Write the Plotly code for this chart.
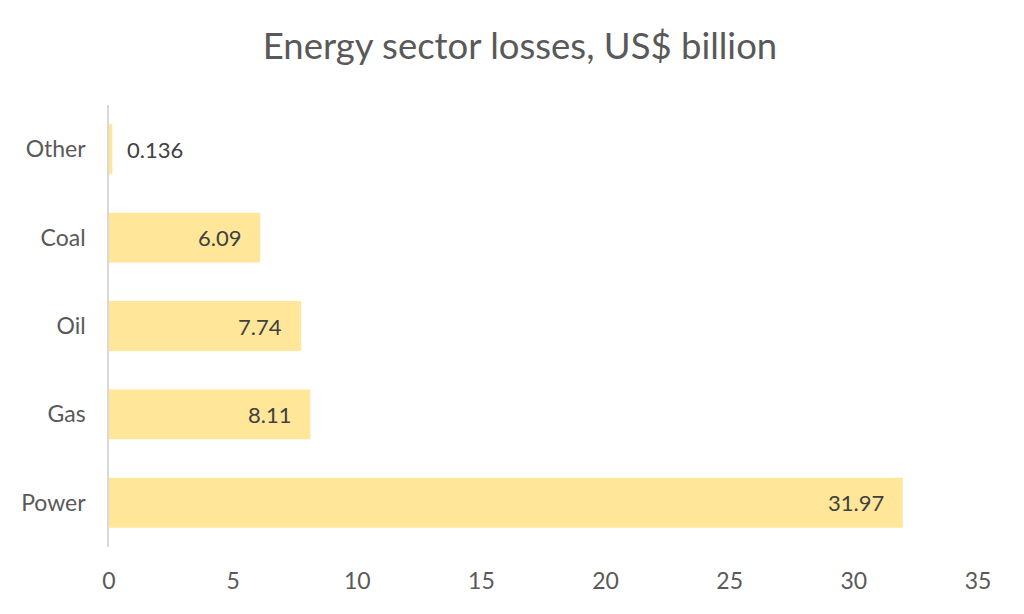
import plotly.graph_objects as go

categories = ["Power", "Gas", "Oil", "Coal", "Other"]
values = [31.97, 8.11, 7.74, 6.09, 0.136]
labels = ["31.97", "8.11", "7.74", "6.09", "0.136"]
x_ticks = [0, 5, 10, 15, 20, 25, 30, 35]

font = "Lato, Calibri, Carlito, sans-serif"
txt = "#595959"

fig = go.Figure(go.Bar(
    y=categories, x=values, orientation="h",
    marker=dict(color="#FFE699", line=dict(width=0)),
    width=0.565,
    hoverinfo="x+y",
))

for c, v, lab in zip(categories, values, labels):
    inside = v > 2
    fig.add_annotation(
        x=v, y=c, xref="x", yref="y", text=lab, showarrow=False,
        xanchor="right" if inside else "left",
        xshift=-17 if inside else 13,
        font=dict(family=font, size=22, color="#404040"),
    )

fig.update_layout(
    width=1024, height=614,
    margin=dict(l=101, r=54, t=97, b=75),
    paper_bgcolor="white", plot_bgcolor="white",
    title=dict(text="Energy sector losses, US$ billion", x=0.5, xanchor="center",
               y=1 - 38/614, yanchor="middle",
               font=dict(family=font, size=36.5, color=txt)),
    showlegend=False,
    font=dict(family=font, color=txt),
)
fig.update_xaxes(range=[0, 35], tickvals=x_ticks, showgrid=False, zeroline=False,
                 showline=False, tickfont=dict(family=font, size=23, color=txt),
                 ticks="", ticklabelstandoff=18, automargin=False)
fig.update_yaxes(showgrid=False, zeroline=False, showline=True, linecolor="#D9D9D9",
                 linewidth=1.5, ticks="", tickfont=dict(family=font, size=23, color=txt),
                 ticklabelstandoff=17, range=[-0.5, 4.5], automargin=False)

fig.write_html("out.html")
